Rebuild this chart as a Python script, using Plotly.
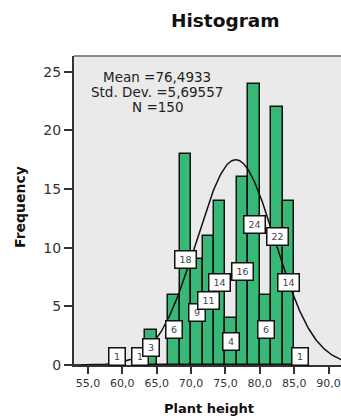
import numpy as np
import plotly.graph_objects as go

# Data
bin_starts = [58.333, 61.667, 63.333, 65.0, 66.667, 68.333, 70.0, 71.667, 73.333,
              75.0, 76.667, 78.333, 80.0, 81.667, 83.333, 85.0]
counts = [1, 1, 3, 0, 6, 18, 9, 11, 14, 4, 16, 24, 6, 22, 14, 1]
bin_width = 5.0 / 3.0
mean_val = 76.4933
std_val = 5.69557
n_val = 150
x_tickvals = [55, 60, 65, 70, 75, 80, 85, 90]
x_ticktext = ["55,0", "60,0", "65,0", "70,0", "75,0", "80,0", "85,0", "90,0"]
y_tickvals = [0, 5, 10, 15, 20, 25]

centers = [s + bin_width / 2 for s in bin_starts]

# plot area in pixels
PL, PR, PT, PB = 74, 341, 56, 365


def px(x):
    return (x - PL) / (PR - PL)


def py(y):
    return (PB - y) / (PB - PT)


fig = go.Figure()
fig.add_trace(go.Bar(
    x=centers, y=counts, width=bin_width,
    marker=dict(color="#38B876", line=dict(color="#111111", width=1.5)),
    hoverinfo="skip", showlegend=False,
))

# Fitted normal curve from the stated mean / std. dev.
xs = np.linspace(52.9, 92.0, 400)
ys = n_val * bin_width * np.exp(-0.5 * ((xs - mean_val) / std_val) ** 2) / (std_val * np.sqrt(2 * np.pi))
fig.add_trace(go.Scatter(x=xs, y=ys, mode="lines", line=dict(color="#111111", width=1.5),
                         hoverinfo="skip", showlegend=False))

annotations = []
for c, h in zip(centers, counts):
    if h == 0:
        continue
    annotations.append(dict(
        x=c, y=max(h / 2.0, 0.7), xref="x", yref="y", text=str(h), showarrow=False,
        font=dict(family="DejaVu Sans", size=9.5, color="#444444"),
        bgcolor="white", bordercolor="#111111", borderwidth=1.5, borderpad=1,
        width=13 if h < 10 else 18, height=14,
    ))

font_txt = dict(family="DejaVu Sans", size=13.5, color="#222222")
for txt, yp in [("Mean =76,4933", 77), ("Std. Dev. =5,69557", 91.5), ("N =150", 106.5)]:
    annotations.append(dict(x=px(157), y=py(yp), xref="paper", yref="paper",
                            text=txt, showarrow=False, font=font_txt, height=14,
                            xanchor="center", yanchor="middle"))

annotations.append(dict(x=px(225), y=py(21), xref="paper", yref="paper",
                        text="<b>Histogram</b>", showarrow=False,
                        font=dict(family="DejaVu Sans", size=18.5, color="#111111"),
                        xanchor="center", yanchor="middle"))
annotations.append(dict(x=px(208.5), y=py(408), xref="paper", yref="paper",
                        text="<b>Plant height</b>", showarrow=False,
                        font=dict(family="DejaVu Sans", size=13, color="#111111"),
                        xanchor="center", yanchor="middle"))
annotations.append(dict(x=px(20), y=py(207), xref="paper", yref="paper",
                        text="<b>Frequency</b>", showarrow=False, textangle=-90,
                        font=dict(family="DejaVu Sans", size=14, color="#111111"),
                        xanchor="center", yanchor="middle"))

fig.update_layout(
    width=341, height=418,
    margin=dict(l=PL, r=341 - PR, t=PT, b=418 - PB),
    paper_bgcolor="white", plot_bgcolor="#EAEAEA",
    bargap=0,
    annotations=annotations,
    shapes=[dict(type="line", xref="paper", yref="paper", x0=0, x1=1, y0=1, y1=1,
                 line=dict(color="#8A8A8A", width=2))],
    xaxis=dict(range=[52.97, 91.8], tickvals=x_tickvals, ticktext=x_ticktext,
               showgrid=False, zeroline=False, showline=True, linecolor="#333333", linewidth=2,
               ticks="outside", ticklen=7, tickwidth=2, tickcolor="#333333",
               tickfont=dict(family="DejaVu Sans", size=11, color="#333333")),
    yaxis=dict(range=[0, 26.35], tickvals=y_tickvals,
               showgrid=False, zeroline=False, showline=True, linecolor="#333333", linewidth=2,
               ticks="outside", ticklen=8, tickwidth=2, tickcolor="#333333",
               tickfont=dict(family="DejaVu Sans", size=14, color="#333333")),
)

fig.write_html("out.html")
